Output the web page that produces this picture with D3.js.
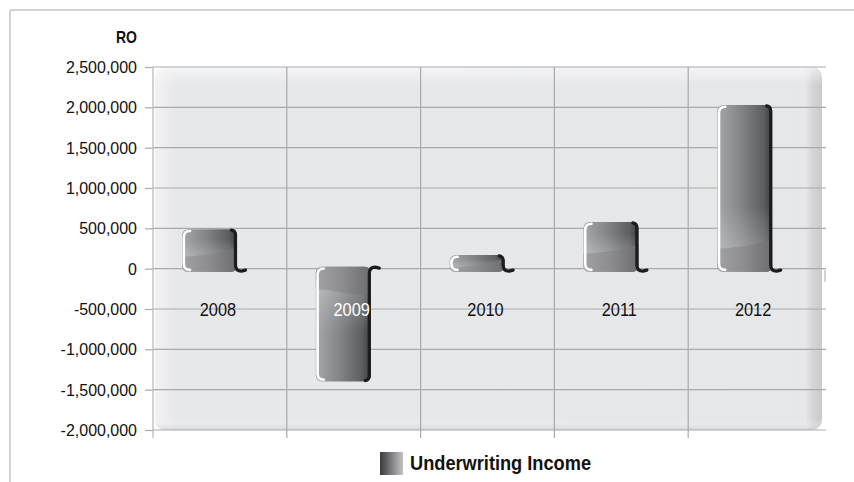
<!DOCTYPE html>
<html>
<head>
<meta charset="utf-8">
<script src="https://cdn.jsdelivr.net/npm/d3@7"></script>
<style>
  html, body { margin: 0; padding: 0; background: #fff; }
  svg { display: block; }
  .tick text { font-family: "Liberation Sans", Arial, sans-serif; }
</style>
</head>
<body>
<svg id="chart" width="854" height="482"></svg>
<script>
// Underwriting income by year (RO)
const years = ["2008", "2009", "2010", "2011", "2012"];
const income = [490000, -1400000, 170000, 580000, 2030000];
const yTicks = [2500000, 2000000, 1500000, 1000000, 500000, 0, -500000, -1000000, -1500000, -2000000];
const unitLabel = "RO";
const seriesName = "Underwriting Income";

const W = 854, H = 482;
const plot = { left: 153, right: 822, top: 67, bottom: 430 };

const svg = d3.select("#chart");
const defs = svg.append("defs");

const y = d3.scaleLinear().domain([-2000000, 2500000]).range([plot.bottom, plot.top]);
const x = d3.scaleBand().domain(years).range([plot.left, plot.right]).paddingInner(0).paddingOuter(0);

// narrow a text element horizontally to a fraction of its natural width
function condense(sel, k) {
  sel.each(function () {
    const len = this.getComputedTextLength();
    d3.select(this).attr("textLength", len * k).attr("lengthAdjust", "spacingAndGlyphs");
  });
}

// outer frame (top and left edges)
svg.append("line").attr("x1", 10).attr("x2", W).attr("y1", 10).attr("y2", 10)
  .attr("stroke", "#d2d2d2").attr("stroke-width", 2);
svg.append("line").attr("x1", 10).attr("x2", 10).attr("y1", 10).attr("y2", H)
  .attr("stroke", "#d2d2d2").attr("stroke-width", 2);

// plot backdrop gradients
const gPanel = defs.append("linearGradient").attr("id", "panelH").attr("x1", 0).attr("x2", 1).attr("y1", 0).attr("y2", 0);
gPanel.append("stop").attr("offset", 0).attr("stop-color", "#f2f2f3");
gPanel.append("stop").attr("offset", 0.03).attr("stop-color", "#e7e8ea");
gPanel.append("stop").attr("offset", 0.975).attr("stop-color", "#e6e7e9");
gPanel.append("stop").attr("offset", 0.985).attr("stop-color", "#d6d6d8");
gPanel.append("stop").attr("offset", 1).attr("stop-color", "#c9c9cb");

const gPanelV = defs.append("linearGradient").attr("id", "panelV").attr("x1", 0).attr("x2", 0).attr("y1", 0).attr("y2", 1);
gPanelV.append("stop").attr("offset", 0).attr("stop-color", "#ffffff").attr("stop-opacity", 0.55);
gPanelV.append("stop").attr("offset", 0.05).attr("stop-color", "#ffffff").attr("stop-opacity", 0);
gPanelV.append("stop").attr("offset", 0.97).attr("stop-color", "#ffffff").attr("stop-opacity", 0);
gPanelV.append("stop").attr("offset", 1).attr("stop-color", "#cfcfd1").attr("stop-opacity", 0.7);

svg.append("rect")
  .attr("x", plot.left + 2).attr("y", plot.top).attr("width", plot.right - plot.left - 2).attr("height", plot.bottom - plot.top)
  .attr("rx", 10).attr("fill", "url(#panelH)");
svg.append("rect")
  .attr("x", plot.left + 2).attr("y", plot.top).attr("width", plot.right - plot.left - 2).attr("height", plot.bottom - plot.top)
  .attr("rx", 10).attr("fill", "url(#panelV)");

// horizontal gridlines + y axis
const yAxis = d3.axisLeft(y).tickValues(yTicks).tickSize(8).tickPadding(8)
  .tickFormat(d => d3.format(",")(d).replace("−", "-"));
const gy = svg.append("g").attr("transform", `translate(${plot.left},0)`).call(yAxis);
gy.select(".domain").remove();
gy.selectAll(".tick line").attr("stroke", "#a9a9a9").attr("stroke-width", 1.2);
gy.selectAll(".tick text").attr("font-size", 17).attr("fill", "#111").call(condense, 0.94);

svg.append("g").selectAll("line").data(yTicks).join("line")
  .attr("x1", plot.left).attr("x2", plot.right + 4)
  .attr("y1", d => y(d)).attr("y2", d => y(d))
  .attr("stroke", "#a9a9a9").attr("stroke-width", 1.2);

// vertical gridlines at category boundaries
const bounds = years.slice(1).map(c => x(c));
svg.append("g").selectAll("line").data(bounds).join("line")
  .attr("x1", d => d).attr("x2", d => d)
  .attr("y1", plot.top).attr("y2", plot.bottom + 8)
  .attr("stroke", "#a9a9a9").attr("stroke-width", 1.2);
svg.append("line").attr("x1", plot.left).attr("x2", plot.left)
  .attr("y1", plot.top).attr("y2", plot.bottom + 8)
  .attr("stroke", "#b5b5b5").attr("stroke-width", 1.2);
svg.append("line").attr("x1", plot.right + 3).attr("x2", plot.right + 3)
  .attr("y1", y(0) + 1).attr("y2", y(0) + 13)
  .attr("stroke", "#b5b5b5").attr("stroke-width", 1.2);

// unit label
svg.append("text").attr("x", 137).attr("y", 43).attr("text-anchor", "end")
  .attr("font-family", "'Liberation Sans', Arial, sans-serif")
  .attr("font-weight", "bold").attr("font-size", 17).attr("fill", "#111")
  .attr("textLength", 21).attr("lengthAdjust", "spacingAndGlyphs").text(unitLabel);

// bar gradients
const gBar = defs.append("linearGradient").attr("id", "barBody").attr("x1", 0).attr("x2", 1).attr("y1", 0).attr("y2", 0);
gBar.append("stop").attr("offset", 0).attr("stop-color", "#a6a7aa");
gBar.append("stop").attr("offset", 0.45).attr("stop-color", "#828386");
gBar.append("stop").attr("offset", 0.85).attr("stop-color", "#5c5d5f");
gBar.append("stop").attr("offset", 1).attr("stop-color", "#3c3c3d");

const gBase = defs.append("linearGradient").attr("id", "barBase").attr("x1", 0).attr("x2", 1).attr("y1", 0).attr("y2", 0);
gBase.append("stop").attr("offset", 0).attr("stop-color", "#a2a2a4");
gBase.append("stop").attr("offset", 0.5).attr("stop-color", "#8c8c8e");
gBase.append("stop").attr("offset", 1).attr("stop-color", "#6c6c6e");

// soft sheen just above the base band
const gSheen = defs.append("linearGradient").attr("id", "barSheen").attr("x1", 0).attr("x2", 0).attr("y1", 0).attr("y2", 1);
gSheen.append("stop").attr("offset", 0).attr("stop-color", "#ffffff").attr("stop-opacity", 0);
gSheen.append("stop").attr("offset", 1).attr("stop-color", "#ffffff").attr("stop-opacity", 0.22);
const gSheenN = defs.append("linearGradient").attr("id", "barSheenN").attr("x1", 0).attr("x2", 0).attr("y1", 1).attr("y2", 0);
gSheenN.append("stop").attr("offset", 0).attr("stop-color", "#ffffff").attr("stop-opacity", 0);
gSheenN.append("stop").attr("offset", 1).attr("stop-color", "#ffffff").attr("stop-opacity", 0.22);

const barOffset = 29, barW = 55, r = 6;
const y0 = y(0);

const bars = svg.append("g").selectAll("g").data(years.map((c, i) => ({ c, v: income[i] }))).join("g");

bars.each(function (d) {
  const g = d3.select(this);
  const x0 = x(d.c) + barOffset, x1 = x0 + barW;
  const pos = d.v >= 0;
  const yv = y(d.v);
  const top = pos ? yv : y0 - 2;
  const bot = pos ? y0 + 3 : yv;
  const h = bot - top;

  // body
  g.append("rect").attr("x", x0).attr("y", top).attr("width", barW).attr("height", h)
    .attr("rx", r).attr("fill", "url(#barBody)");

  // sheen above the base band, then the flat base band with a curved edge
  const band = Math.min(h * 0.42, 26);
  const sheenH = Math.min(h * 0.35, 40);
  let basePath;
  if (pos) {
    const yb = bot - band;
    g.append("rect").attr("x", x0 + 1).attr("y", Math.max(top + 2, yb - sheenH)).attr("width", barW - 2)
      .attr("height", yb + 3 - Math.max(top + 2, yb - sheenH)).attr("fill", "url(#barSheen)");
    basePath = `M${x0},${yb + 3} Q${x0 + barW * 0.5},${yb + 2} ${x1},${yb - 6} L${x1},${bot - r} Q${x1},${bot} ${x1 - r},${bot} L${x0 + r},${bot} Q${x0},${bot} ${x0},${bot - r} Z`;
  } else {
    const yb = top + band;
    g.append("rect").attr("x", x0 + 1).attr("y", yb - 3).attr("width", barW - 2)
      .attr("height", Math.min(bot - 2, yb + sheenH) - (yb - 3)).attr("fill", "url(#barSheenN)");
    basePath = `M${x0},${yb - 6} Q${x0 + barW * 0.5},${yb + 2} ${x1},${yb + 3} L${x1},${top + r} Q${x1},${top} ${x1 - r},${top} L${x0 + r},${top} Q${x0},${top} ${x0},${top + r} Z`;
  }
  g.append("path").attr("d", basePath).attr("fill", "url(#barBase)");

  // left highlight
  g.append("path")
    .attr("d", `M${x0 + 8},${top + 1.8} Q${x0 + 1.8},${top + 1.8} ${x0 + 1.8},${top + 8} L${x0 + 1.8},${bot - 8} Q${x0 + 1.8},${bot - 1.8} ${x0 + 8},${bot - 1.8}`)
    .attr("fill", "none").attr("stroke", "#ffffff").attr("stroke-width", 2.6).attr("stroke-linecap", "round");

  // dark right edge with curl towards the zero line
  const ex = x1 - 1.5;
  let edge;
  if (pos) {
    edge = `M${ex - 4},${top + 1} Q${ex},${top + 1.5} ${ex},${top + 6} L${ex},${bot - 7} Q${ex},${bot - 0.5} ${ex + 6},${bot - 0.5} L${ex + 10},${bot - 1.5}`;
  } else {
    edge = `M${ex - 4},${bot - 1} Q${ex},${bot - 1.5} ${ex},${bot - 6} L${ex},${top + 7} Q${ex},${top + 0.5} ${ex + 6},${top + 0.5} L${ex + 10},${top + 1.5}`;
  }
  g.append("path").attr("d", edge).attr("fill", "none").attr("stroke", "#1c1c1c")
    .attr("stroke-width", 3.2).attr("stroke-linecap", "round").attr("stroke-linejoin", "round");
});

// category labels, drawn in white where they sit on a bar
const labelY = y(-500000);
svg.append("g").selectAll("text").data(years.map((c, i) => ({ c, v: income[i] }))).join("text")
  .attr("x", d => x(d.c) + x.bandwidth() / 2 - 2)
  .attr("y", labelY).attr("dy", "0.36em").attr("text-anchor", "middle")
  .attr("font-family", "'Liberation Sans', Arial, sans-serif").attr("font-size", 19)
  .attr("fill", d => (y(d.v) > labelY ? "#ffffff" : "#111111"))
  .text(d => d.c)
  .call(condense, 0.86);

// legend
const gLeg = defs.append("linearGradient").attr("id", "legSwatch").attr("x1", 0).attr("x2", 1).attr("y1", 0).attr("y2", 0);
gLeg.append("stop").attr("offset", 0).attr("stop-color", "#3a3a3c");
gLeg.append("stop").attr("offset", 1).attr("stop-color", "#c4c4c6");
svg.append("rect").attr("x", 380).attr("y", 452).attr("width", 23).attr("height", 23).attr("fill", "url(#legSwatch)");
svg.append("text").attr("x", 410).attr("y", 470)
  .attr("font-family", "'Liberation Sans', Arial, sans-serif")
  .attr("font-weight", "bold").attr("font-size", 20).attr("fill", "#111")
  .attr("textLength", 181).attr("lengthAdjust", "spacingAndGlyphs").text(seriesName);
</script>
</body>
</html>
